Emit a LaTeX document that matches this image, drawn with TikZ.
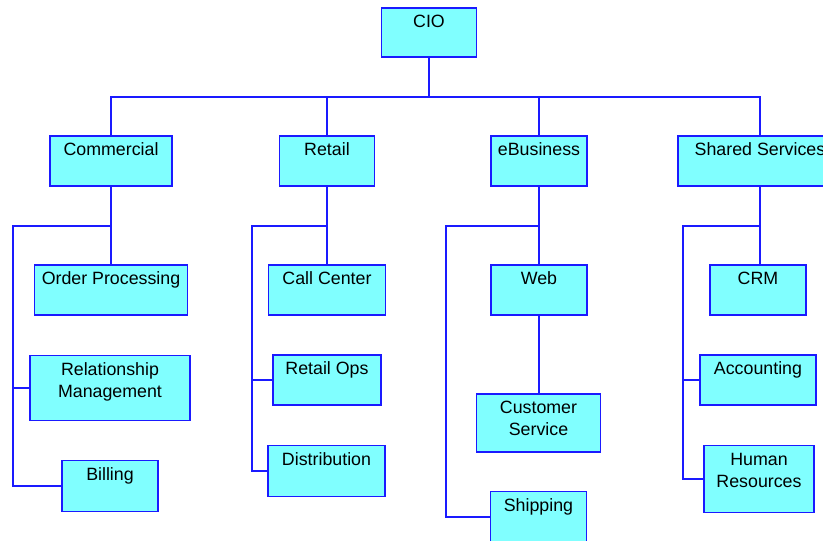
\documentclass[tikz,border=0pt]{standalone}
\usepackage{fontspec}
\setmainfont{Liberation Sans}
\definecolor{boxfill}{HTML}{80FFFF}
\definecolor{boxline}{HTML}{1A1AFF}
\begin{document}
\begin{tikzpicture}[x=1pt,y=-1pt,
  unit/.style={draw=boxline, fill=boxfill, line width=1.3pt, inner sep=0pt, minimum width=#1},
  caption/.style={anchor=north, inner sep=0pt, align=center, font=\fontsize{17.8}{22}\selectfont},
  link/.style={draw=boxline, line width=1.3pt}]
\useasboundingbox (0,0) rectangle (823,541);
\clip (0,0) rectangle (823,541);

% top level
\node[unit=95, minimum height=49] (cio) at (429,32.5) {};
% departments
\node[unit=122, minimum height=50] (com) at (111,161) {};
\node[unit=95, minimum height=50] (ret) at (327,161) {};
\node[unit=96, minimum height=50] (ebu) at (539,161) {};
\node[unit=164, minimum height=50] (shs) at (760,161) {};
% Commercial
\node[unit=153, minimum height=50] (ord) at (111,290) {};
\node[unit=160, minimum height=65] (rel) at (110,388) {};
\node[unit=96, minimum height=51] (bil) at (110,486) {};
% Retail
\node[unit=117, minimum height=50] (cal) at (327,290) {};
\node[unit=108, minimum height=50] (rop) at (327,380) {};
\node[unit=117, minimum height=51] (dis) at (326.5,471) {};
% eBusiness
\node[unit=96, minimum height=50] (web) at (539,290) {};
\node[unit=124, minimum height=58] (cus) at (538.5,423) {};
\node[unit=96, minimum height=51] (shp) at (538.5,517) {};
% Shared Services
\node[unit=96, minimum height=50] (crm) at (758,290) {};
\node[unit=116, minimum height=50] (acc) at (758,380) {};
\node[unit=110, minimum height=67] (hum) at (759,479) {};

% captions, set at the top of each box
\foreach \b/\t in {cio/CIO, com/Commercial, ret/Retail, ebu/eBusiness,
    shs/Shared Services, ord/Order Processing, rel/Relationship\\\strut Management,
    bil/Billing, cal/Call Center, rop/Retail Ops, dis/Distribution, web/Web,
    cus/Customer\\\strut Service, shp/Shipping, crm/CRM, acc/Accounting,
    hum/Human\\\strut Resources}
  \node[caption] (\b-t) at ([yshift=-4.6pt]\b.north) {\strut\t};

% bus points
\coordinate (topbus) at (429,97);
\coordinate (combus) at (111,226);
\coordinate (comspine) at (13,226);
\coordinate (retbus) at (327,226);
\coordinate (retspine) at (252,226);
\coordinate (ebubus) at (539,226);
\coordinate (ebuspine) at (446,226);
\coordinate (shsbus) at (760,226);
\coordinate (shsspine) at (683,226);

% CIO to departments
\draw[link] (cio.south) -- (topbus);
\draw[link] (topbus) -| (com.north);
\draw[link] (topbus) -| (ret.north);
\draw[link] (topbus) -| (ebu.north);
\draw[link] (topbus) -| (shs.north);

% Commercial
\draw[link] (com.south) -- (ord.north);
\draw[link] (combus) -- (comspine) |- (bil.west);
\draw[link] (comspine) |- (rel.west);
% Retail
\draw[link] (ret.south) -- (cal.north);
\draw[link] (retbus) -- (retspine) |- (dis.west);
\draw[link] (retspine) |- (rop.west);
% eBusiness
\draw[link] (ebu.south) -- (web.north);
\draw[link] (web.south) -- (web.south |- cus.north);
\draw[link] (ebubus) -- (ebuspine) |- (shp.west);
% Shared Services
\draw[link] (shs.south) -- (shsbus) -- (shsbus |- crm.north);
\draw[link] (shsbus) -- (shsspine) |- (hum.west);
\draw[link] (shsspine) |- (acc.west);
\end{tikzpicture}
\end{document}
